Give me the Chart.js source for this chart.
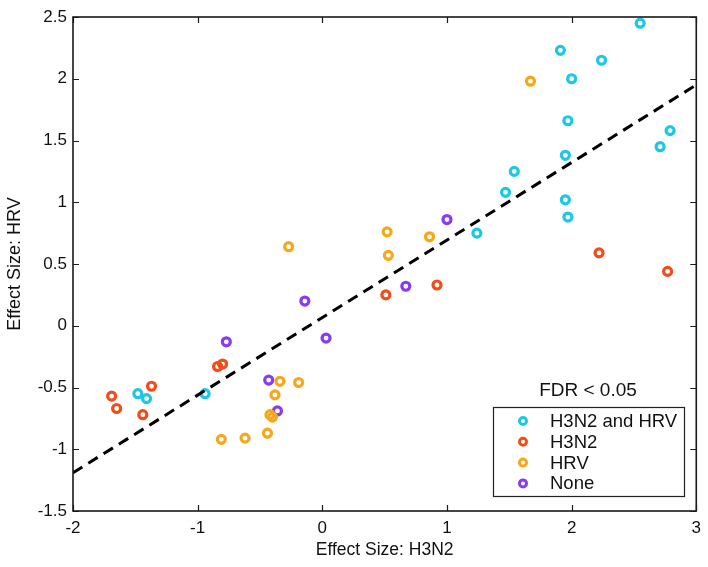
<!DOCTYPE html>
<html>
<head>
<meta charset="utf-8">
<script src="https://cdn.jsdelivr.net/npm/chart.js@4/dist/chart.umd.min.js"></script>
<style>
  html, body { margin: 0; padding: 0; background: #fff; }
  #wrap { width: 708px; height: 567px; }
</style>
</head>
<body>
<div id="wrap"><canvas id="c" width="708" height="567"></canvas></div>
<script>
const xTicks = [-2, -1, 0, 1, 2, 3];
const yTicks = [-1.5, -1, -0.5, 0, 0.5, 1, 1.5, 2, 2.5];

const seriesNames = ['H3N2 and HRV', 'H3N2', 'HRV', 'None'];
const seriesColors = ['#1cc8e4', '#f24c18', '#f6a81a', '#8a3bef'];

const bothX = [2.55, 1.91, 2.24, 2.00, 1.97, 2.79, 2.71, 1.95, 1.54, 1.47, 1.95, 1.97, 1.24, -0.94, -1.48, -1.41];
const bothY = [2.45, 2.23, 2.15, 2.00, 1.66, 1.58, 1.45, 1.38, 1.25, 1.08, 1.02, 0.88, 0.75, -0.55, -0.55, -0.59];

const h3n2X = [2.22, 2.77, 0.92, 0.51, -1.69, -1.65, -1.37, -1.44, -0.84, -0.80];
const h3n2Y = [0.59, 0.44, 0.33, 0.25, -0.57, -0.67, -0.49, -0.72, -0.33, -0.31];

const hrvX = [1.67, 0.52, 0.53, 0.86, -0.27, -0.34, -0.19, -0.38, -0.42, -0.40, -0.44, -0.62, -0.81];
const hrvY = [1.98, 0.76, 0.57, 0.72, 0.64, -0.45, -0.46, -0.56, -0.72, -0.74, -0.87, -0.91, -0.92];

const noneX = [1.00, 0.67, -0.14, 0.03, -0.77, -0.43, -0.36];
const noneY = [0.86, 0.32, 0.20, -0.10, -0.13, -0.44, -0.69];

const fitX = [-2, 3];
const fitY = [-1.19, 1.95];

const pairs = (xs, ys) => xs.map((x, i) => ({ x, y: ys[i] }));
const groups = [[bothX, bothY], [h3n2X, h3n2Y], [hrvX, hrvY], [noneX, noneY]];

const FONT = '"Liberation Sans", Arial, Helvetica, sans-serif';

// box, inward ticks, legend
const framePlugin = {
  id: 'frame',
  afterDatasetsDraw(chart) {
    const { ctx, chartArea: a, scales } = chart;
    ctx.save();
    ctx.strokeStyle = '#1a1a1a';
    ctx.lineWidth = 1.6;
    ctx.strokeRect(a.left, a.top, a.right - a.left, a.bottom - a.top);
    ctx.beginPath();
    xTicks.forEach(v => {
      const px = Math.round(scales.x.getPixelForValue(v)) + 0.5;
      ctx.moveTo(px, a.bottom); ctx.lineTo(px, a.bottom - 6);
      ctx.moveTo(px, a.top); ctx.lineTo(px, a.top + 6);
    });
    yTicks.forEach(v => {
      const py = Math.round(scales.y.getPixelForValue(v)) + 0.5;
      ctx.moveTo(a.left, py); ctx.lineTo(a.left + 6, py);
      ctx.moveTo(a.right, py); ctx.lineTo(a.right - 6, py);
    });
    ctx.lineWidth = 1.2;
    ctx.stroke();

    // legend
    const bx = 493, by = 407, bw = 191, bh = 89;
    ctx.fillStyle = '#fff';
    ctx.fillRect(bx, by, bw, bh);
    ctx.lineWidth = 1.2;
    ctx.strokeStyle = '#222';
    ctx.strokeRect(bx + 0.5, by + 0.5, bw, bh);
    ctx.fillStyle = '#111';
    ctx.font = '19px ' + FONT;
    ctx.textAlign = 'center';
    ctx.textBaseline = 'middle';
    ctx.fillText('FDR < 0.05', 588, 391);
    ctx.font = '18.5px ' + FONT;
    ctx.textAlign = 'left';
    seriesNames.forEach((name, i) => {
      const y = 421 + i * 20.8;
      ctx.beginPath();
      ctx.arc(523, y, 3.5, 0, Math.PI * 2);
      ctx.strokeStyle = seriesColors[i];
      ctx.lineWidth = 3;
      ctx.stroke();
      ctx.fillStyle = '#111';
      ctx.fillText(name, 550, y + 1);
    });
    ctx.restore();
  }
};

const scatterSets = groups.map(([xs, ys], i) => ({
  type: 'scatter',
  label: seriesNames[i],
  data: pairs(xs, ys),
  borderColor: seriesColors[i],
  backgroundColor: 'rgba(0,0,0,0)',
  pointRadius: 4,
  pointBorderWidth: 3.2,
  order: 1
}));

new Chart(document.getElementById('c'), {
  data: {
    datasets: [
      {
        type: 'line',
        label: 'fit',
        data: pairs(fitX, fitY),
        borderColor: '#000',
        borderWidth: 3,
        borderDash: [11, 7],
        pointRadius: 0,
        fill: false,
        order: 0
      },
      ...scatterSets
    ]
  },
  options: {
    responsive: false,
    animation: false,
    layout: { padding: { top: 17, right: 10, left: 0, bottom: 0 } },
    plugins: {
      legend: { display: false },
      tooltip: { enabled: false }
    },
    scales: {
      x: {
        type: 'linear',
        min: -2,
        max: 3,
        afterBuildTicks(scale) { scale.ticks = xTicks.map(value => ({ value })); },
        afterFit(scale) { scale.height = 56; },
        grid: { display: false, drawTicks: false },
        border: { display: false },
        ticks: {
          padding: 7,
          color: '#111',
          font: { family: FONT, size: 17 },
          callback: v => String(v)
        },
        title: {
          display: true,
          text: 'Effect Size: H3N2',
          color: '#111',
          font: { family: FONT, size: 17.5 },
          padding: { top: 0, bottom: 6 }
        }
      },
      y: {
        type: 'linear',
        min: -1.5,
        max: 2.5,
        afterBuildTicks(scale) { scale.ticks = yTicks.map(value => ({ value })); },
        afterFit(scale) { scale.width = 73; },
        grid: { display: false, drawTicks: false },
        border: { display: false },
        ticks: {
          padding: 6,
          color: '#111',
          font: { family: FONT, size: 17 },
          callback: v => String(v)
        },
        title: {
          display: true,
          text: 'Effect Size: HRV',
          color: '#111',
          font: { family: FONT, size: 18 },
          padding: { top: 4, bottom: 0 }
        }
      }
    }
  },
  plugins: [framePlugin]
});
</script>
</body>
</html>
